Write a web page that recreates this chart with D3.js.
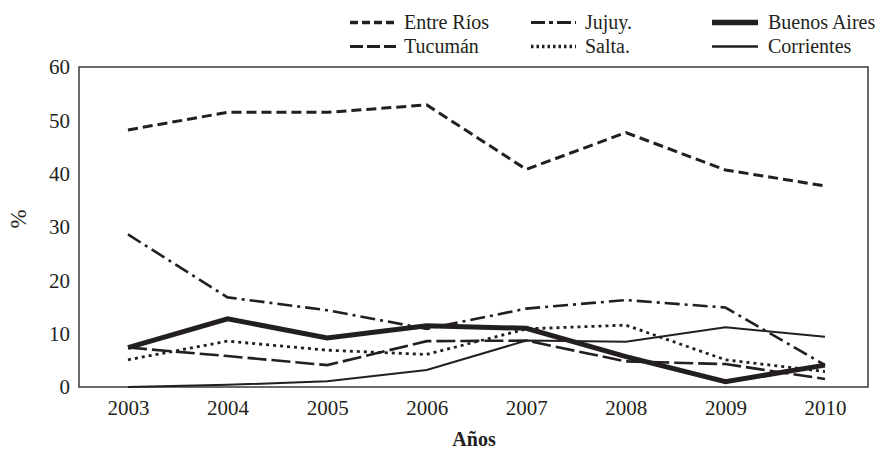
<!DOCTYPE html>
<html><head><meta charset="utf-8">
<script src="https://cdn.jsdelivr.net/npm/d3@7"></script>
<style>body{margin:0;background:#fff}svg{display:block}</style>
</head><body><svg id="c" width="876" height="453"></svg>
<script>
const years = ["2003","2004","2005","2006","2007","2008","2009","2010"];
const yTicks = [0,10,20,30,40,50,60];
const entreRios = [48.2,51.5,51.5,52.9,40.8,47.7,40.7,37.7];
const tucuman = [7.4,5.8,4.1,8.6,8.7,4.8,4.3,1.5];
const jujuy = [28.6,16.8,14.4,10.9,14.7,16.3,14.9,4.1];
const salta = [5.1,8.6,6.9,6.1,10.9,11.6,5.1,2.9];
const buenosAires = [7.4,12.8,9.2,11.5,11.0,5.7,1.0,4.1];
const corrientes = [0.0,0.4,1.1,3.2,8.7,8.5,11.2,9.4];

const FONT = '"Liberation Serif"';
const INK = "#231f20";
const series = [
  {name:"Entre Ríos", values:entreRios, w:3, dash:"10,5", ldash:"8,4", col:0, row:0},
  {name:"Tucumán", values:tucuman, w:2.6, dash:"19,5", ldash:"13,4", col:0, row:1},
  {name:"Jujuy.", values:jujuy, w:2.6, dash:"15,5,3,5", ldash:"14,4,4,4", col:1, row:0},
  {name:"Salta.", values:salta, w:2.8, dash:"3,4", ldash:"2.5,3", col:1, row:1},
  {name:"Buenos Aires", values:buenosAires, w:5, dash:null, ldash:null, col:2, row:0},
  {name:"Corrientes", values:corrientes, w:2, dash:null, ldash:null, col:2, row:1}
];

const svg = d3.select("#c");
const L=79,R=868,T=67,B=387;
const x = d3.scalePoint().domain(years).range([128,825]);
const y = d3.scaleLinear().domain([0,60]).range([B,T]);

svg.append("rect").attr("x",L).attr("y",T).attr("width",R-L).attr("height",B-T)
  .attr("fill","none").attr("stroke","#3a3a3a").attr("stroke-width",1.5);

const ya = svg.append("g").attr("transform",`translate(${L},0)`)
  .call(d3.axisLeft(y).tickValues(yTicks).tickSize(0).tickPadding(9));
ya.select(".domain").remove();
ya.attr("font-family",FONT).attr("font-size",21);
ya.selectAll("text").style("font-family",FONT).style("font-size","21px").style("fill",INK);

const xa = svg.append("g").attr("transform",`translate(0,${B})`)
  .call(d3.axisBottom(x).tickSize(0).tickPadding(13));
xa.select(".domain").remove();
xa.attr("font-family",FONT).attr("font-size",21);
xa.selectAll("text").style("font-family",FONT).style("font-size","21px").style("fill",INK);

svg.append("text").attr("transform","translate(26,219) rotate(-90)")
  .attr("text-anchor","middle").style("font-family",FONT).style("font-size","23px").style("fill",INK).text("%");
svg.append("text").attr("x",474).attr("y",446).attr("text-anchor","middle")
  .style("font-family",FONT).style("font-size","20px").style("font-weight","bold").style("fill",INK).text("Años");

const line = d3.line().x((d,i)=>x(years[i])).y(d=>y(d));
series.forEach(s=>{
  svg.append("path").attr("d",line(s.values)).attr("fill","none")
    .attr("stroke",INK).attr("stroke-width",s.w)
    .attr("stroke-dasharray",s.dash).attr("stroke-linejoin","miter");
});

const colX=[350,531,712], colX2=[396,576,758], textX=[404,585,768], rowY=[22.5,46.5];
series.forEach(s=>{
  const yy=rowY[s.row];
  svg.append("line").attr("x1",colX[s.col]).attr("x2",colX2[s.col])
    .attr("y1",yy).attr("y2",yy).attr("stroke",INK)
    .attr("stroke-width",s.w+0.5).attr("stroke-dasharray",s.ldash);
  svg.append("text").attr("x",textX[s.col]).attr("y",yy+6)
    .style("font-family",FONT).style("font-size","20px").style("fill",INK).text(s.name);
});
</script></body></html>
